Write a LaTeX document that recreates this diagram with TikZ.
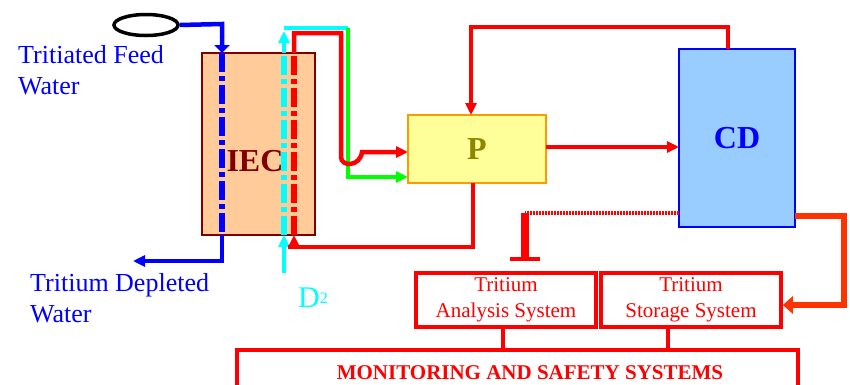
\documentclass[tikz,border=0pt]{standalone}
\usepackage{fontspec}
\setmainfont{Liberation Serif}
\usetikzlibrary{arrows.meta, positioning, shapes.geometric}
\definecolor{maroon}{HTML}{800000}
\definecolor{peach}{HTML}{FFCC99}
\definecolor{lemon}{HTML}{FFFF99}
\definecolor{amber}{HTML}{FF9900}
\definecolor{sky}{HTML}{99CCFF}
\definecolor{orangered}{HTML}{FF3300}
\definecolor{aqua}{HTML}{00FFFF}
\definecolor{lime}{HTML}{00FF00}
\definecolor{pureblue}{HTML}{0000FF}
\definecolor{purered}{HTML}{FF0000}

\begin{document}
\begin{tikzpicture}[x=1pt, y=-1pt,
    unitbox/.style={draw, line width=2.5pt, inner sep=0pt, outer sep=0pt, font=\bfseries\fontsize{32}{32}\selectfont},
    sysbox/.style={draw=purered, line width=3.5pt, fill=white, minimum width=180pt, minimum height=54pt,
        inner sep=0pt, align=center, text=purered, font=\fontsize{21}{26}\selectfont},
    side/.style={text=pureblue, font=\fontsize{26}{31}\selectfont, align=left, inner sep=0pt, anchor=north west},
    pipe/.style={line width=4.5pt},
    dashdot/.style={line width=6pt, dash pattern=on 19pt off 4pt on 5pt off 4pt},
    tip/.style={-{Triangle[length=12pt,width=11pt]}}]
\useasboundingbox (0,0) rectangle (850,384);

% units
\node[unitbox, draw=maroon, fill=peach, minimum width=113pt, minimum height=182pt] (iec) at (258.5,144) {};
\node[inner sep=0pt, text=maroon, font=\bfseries\fontsize{32}{32}\selectfont] (ieclbl) at (255,161) {IEC};
\node[unitbox, draw=amber, fill=lemon, text=olive, minimum width=138pt, minimum height=68pt] (p) at (477,149) {P};
\node[unitbox, draw=pureblue, fill=sky, text=pureblue, minimum width=116pt, minimum height=178pt] (cd) at (737,138) {CD};
\node[sysbox] (tas) at (506,300) {Tritium\\Analysis System};
\node[sysbox] (tss) at (691,300) {Tritium\\Storage System};
\node[draw=purered, line width=4pt, inner sep=0pt, minimum width=561pt, minimum height=60pt] (mss) at (517.5,380) {};
\node[inner sep=0pt, anchor=base, text=purered, font=\bfseries\fontsize{21}{21}\selectfont] (msslbl) at (530,379) {MONITORING AND SAFETY SYSTEMS};
\node[draw, ellipse, line width=3.5pt, inner sep=0pt, minimum width=64pt, minimum height=21pt] (feed) at (146,25) {};

% texts
\node[side] (feedtxt) at (18,45.5) {Tritiated Feed\\Water};
\node[side] (outtxt) at (30,273) {Tritium Depleted\\Water};
\node[inner sep=0pt, anchor=base west, text=aqua, font=\fontsize{30}{30}\selectfont] (dtwo) at (298,307)
    {D\raisebox{4pt}{\fontsize{16}{16}\selectfont 2}};

% feed water
\coordinate (bt) at (222,24);
\coordinate (bb) at (222,261);
\coordinate (bend) at (133,261);
\draw[pipe, pureblue, -{Triangle[length=8pt,width=15pt]}] (feed.east) -- (bt) -- (bt |- iec.north);
\draw[pureblue, dashdot] (bt |- iec.north) -- (bt |- iec.south);
\draw[pipe, pureblue, tip] (bt |- iec.south) -- (bb) -- (bend);

% deuterium
\coordinate (ct) at (284,31);
\coordinate (cb) at (284,273);
\coordinate (cr) at (348,28);
\coordinate (gb) at (348,177);
\draw[pipe, aqua, tip] (cb) -- (cb |- iec.south);
\draw[aqua, dashdot] (cb |- iec.south) -- (cb |- iec.north);
\draw[pipe, aqua, tip] (cb |- iec.north) -- (ct);
\draw[pipe, aqua] (284,28) -- (cr);
\draw[pipe, lime, tip] (cr) -- (gb) -- (gb -| p.west);

% recycle through IEC
\coordinate (rt) at (294,33);
\coordinate (rr) at (341,33);
\coordinate (rh) at (341,157);
\coordinate (rp) at (362,152);
\coordinate (rpb) at (473,247);
\coordinate (rlo) at (294,247);
\draw[pipe, purered, tip] (p.south -| rpb) -- (rpb) -- (288,247) (rlo) -- (rlo |- iec.south);
\draw[purered, dashdot] (rlo |- iec.south) -- (rt |- iec.north);
\draw[pipe, purered, tip] (rt |- iec.north) -- (rt) -- (rr) -- (rh)
    .. controls (341,167) and (360,167) .. (rp) -- (rp -| p.west);

% P and CD
\coordinate (lt) at (471,27);
\coordinate (lr) at (728,27);
\draw[pipe, purered, tip] (cd.north -| lr) -- (lr) -- (lt) -- (lt |- p.north);
\draw[pipe, purered, tip] (p.east |- 0,147) -- (cd.west |- 0,147);

% to tritium systems
\coordinate (dt) at (525,213);
\coordinate (sr) at (844,216);
\coordinate (sb) at (844,305);
\draw[purered, line width=3.5pt, dash pattern=on 2pt off 1pt] (cd.west |- dt) -- (dt);
\draw[purered, line width=8pt, -{Bar[width=30pt,line width=4pt]}] (dt) -- (525,261);
\draw[orangered, line width=6.5pt, -{Triangle[length=10pt,width=17pt]}] (cd.east |- sr) -- (sr) -- (sb) -- (tss.east |- sb);
\draw[pipe, purered] (tas.south -| 503,0) -- (mss.north -| 503,0);
\draw[pipe, purered] (tss.south -| 668,0) -- (mss.north -| 668,0);
\end{tikzpicture}
\end{document}
